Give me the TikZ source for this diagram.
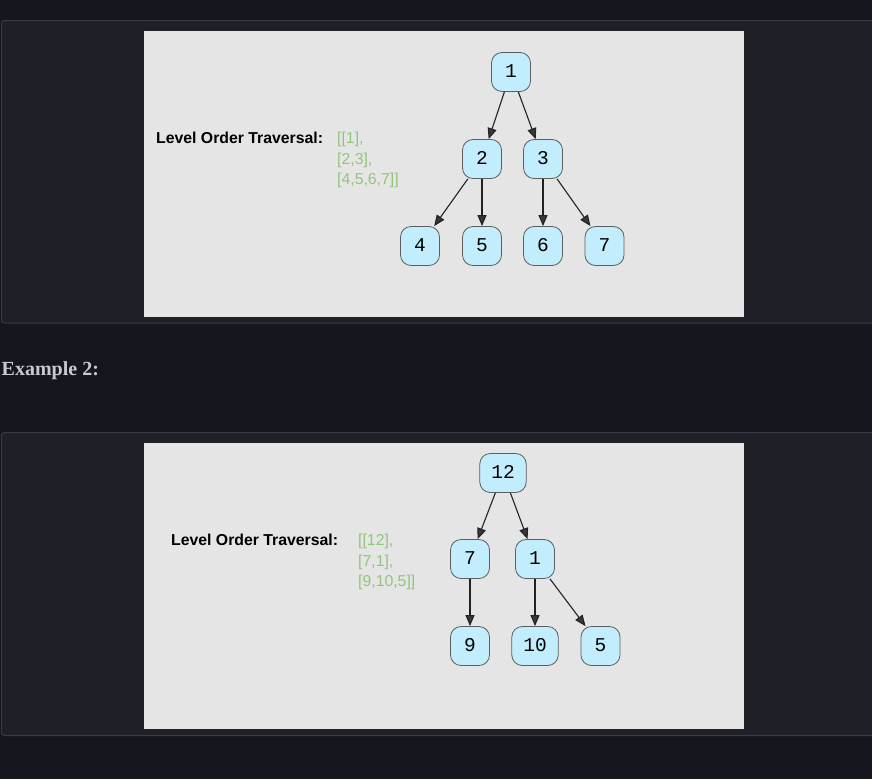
\documentclass[tikz,border=0pt]{standalone}
\usepackage{fontspec}
\setmainfont{Liberation Sans}
\newfontfamily\treemono{Liberation Mono}
\newfontfamily\headserif{Liberation Serif}
\usetikzlibrary{arrows.meta}
\definecolor{pagebg}{HTML}{16161E}
\definecolor{panelbg}{HTML}{1F1F28}
\definecolor{panelline}{HTML}{3A3A44}
\definecolor{imgbg}{HTML}{E5E5E5}
\definecolor{nodefill}{HTML}{C2EDFC}
\definecolor{nodeline}{HTML}{5E5E5E}
\definecolor{listgreen}{HTML}{93C47D}
\definecolor{headtext}{HTML}{C9C9D3}
\definecolor{edgecol}{HTML}{222222}
\tikzset{
  treenode/.style={draw=nodeline, fill=nodefill, rounded corners=10.5pt, line width=0.8pt,
    minimum width=39pt, minimum height=39pt, inner xsep=11.5pt, inner ysep=0pt,
    text height=11pt, text depth=0pt, font=\treemono\fontsize{19.5}{19.5}\selectfont, text=black},
  treeedge/.style={draw=edgecol, line width=1.1pt,
    -{Triangle[length=11pt,width=9pt,fill=black!78]}},
  lbl/.style={anchor=base west, inner sep=0pt, font=\bfseries\fontsize{15.8}{20}\selectfont, text=black},
  lst/.style={anchor=base west, inner sep=0pt, font=\fontsize{15.8}{20}\selectfont, text=listgreen},
  panel/.style={fill=panelbg, draw=panelline, line width=1pt, rounded corners=3pt},
  imgbox/.style={fill=imgbg, draw=none}
}
\begin{document}
\begin{tikzpicture}[x=1pt,y=-1pt]
\useasboundingbox (0,0) rectangle (872,779);
\fill[pagebg] (0,0) rectangle (872,779);
% panel 1
\draw[panel] (1.5,20.5) rectangle (885,323);
\fill[imgbox] (144,31) rectangle (744,317);
% panel 2
\draw[panel] (1.5,432.5) rectangle (885,735.5);
\fill[imgbox] (144,443) rectangle (744,729);
% heading
\node[anchor=base west, inner sep=0pt, text=headtext, font=\headserif\bfseries\fontsize{20}{24}\selectfont] (head) at (1.5,375) {Example 2:};
% example 1 texts
\node[lbl] (lab1) at (156,143) {Level Order Traversal:};
\node[lst] (l1a) at (337,143.5) {[[1],};
\node[lst] (l1b) at (337,164) {[2,3],};
\node[lst] (l1c) at (337,184.5) {[4,5,6,7]]};
% example 1 tree
\node[treenode] (a1) at (511,72) {1};
\node[treenode] (a2) at (482,159) {2};
\node[treenode] (a3) at (543,159) {3};
\node[treenode] (a4) at (420,246) {4};
\node[treenode] (a5) at (482,246) {5};
\node[treenode] (a6) at (543,246) {6};
\node[treenode] (a7) at (604.5,246) {7};
\draw[treeedge] (a1) -- (a2);
\draw[treeedge] (a1) -- (a3);
\draw[treeedge] (a2) -- (a4);
\draw[treeedge] (a2) -- (a5);
\draw[treeedge] (a3) -- (a6);
\draw[treeedge] (a3) -- (a7);
% example 2 texts
\node[lbl] (lab2) at (171,545) {Level Order Traversal:};
\node[lst] (l2a) at (358,545.5) {[[12],};
\node[lst] (l2b) at (358,566) {[7,1],};
\node[lst] (l2c) at (358,586.5) {[9,10,5]]};
% example 2 tree
\node[treenode] (b12) at (503,473) {12};
\node[treenode] (b7) at (470,559) {7};
\node[treenode] (b1) at (535,559) {1};
\node[treenode] (b9) at (470,646) {9};
\node[treenode] (b10) at (535,646) {10};
\node[treenode] (b5) at (600.5,646) {5};
\draw[treeedge] (b12) -- (b7);
\draw[treeedge] (b12) -- (b1);
\draw[treeedge] (b7) -- (b9);
\draw[treeedge] (b1) -- (b10);
\draw[treeedge] (b1) -- (b5);
\end{tikzpicture}
\end{document}
